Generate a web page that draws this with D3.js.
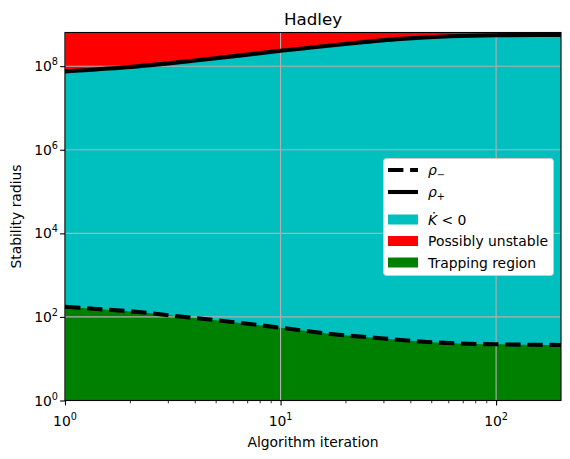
<!DOCTYPE html>
<html><head><meta charset="utf-8">
<script src="https://cdn.jsdelivr.net/npm/d3@7"></script>
<style>
body{margin:0;background:#fff;}
text{font-family:"DejaVu Sans",sans-serif;fill:#000;}
</style></head>
<body><svg id="c" width="570" height="459"></svg>
<script>
// Data
const rhoMinusIter = [1, 1.35, 2.2, 3.5, 5.8, 10, 13.2, 18, 29, 46, 73, 100, 148, 200];
const rhoMinusVal  = [175, 157, 131, 101, 77, 55, 46, 38, 31, 25.5, 22.9, 22.1, 21.6, 21.3];
const rhoPlusIter  = [1, 1.93, 3.93, 10, 13, 21, 36, 61, 100, 200];
const rhoPlusVal   = [7.5e7, 9.4e7, 1.35e8, 2.33e8, 2.7e8, 3.5e8, 4.5e8, 5.2e8, 5.5e8, 5.6e8];
const xTickVals = [1, 10, 100];
const xTickExps = ["0", "1", "2"];
const yTickVals = [1, 1e2, 1e4, 1e6, 1e8];
const yTickExps = ["0", "2", "4", "6", "8"];
const xDomain = [1, 200];
const yDomain = [1, 6.4e8];
const title = "Hadley";
const xLabel = "Algorithm iteration";
const yLabel = "Stability radius";

const svg = d3.select("#c");
const L = 65, R = 561, T = 32.5, B = 400.5;
const FS = 13.9, SUP = 9.7;
const x = d3.scaleLog().domain(xDomain).range([L, R]);
const y = d3.scaleLog().domain(yDomain).range([B, T]);

const rhoMinus = rhoMinusIter.map((d, i) => ({x: d, y: rhoMinusVal[i]}));
const rhoPlus = rhoPlusIter.map((d, i) => ({x: d, y: rhoPlusVal[i]}));
const curve = d3.curveMonotoneX;

// Red region: above rho+
svg.append("path").datum(rhoPlus)
  .attr("d", d3.area().curve(curve).x(d => x(d.x)).y0(y(yDomain[1])).y1(d => y(d.y)))
  .attr("fill", "#ff0000");
// Cyan region: below rho+
svg.append("path").datum(rhoPlus)
  .attr("d", d3.area().curve(curve).x(d => x(d.x)).y0(y(yDomain[0])).y1(d => y(d.y)))
  .attr("fill", "#00bfbf");
// Green region: below rho-
svg.append("path").datum(rhoMinus)
  .attr("d", d3.area().curve(curve).x(d => x(d.x)).y0(y(yDomain[0])).y1(d => y(d.y)))
  .attr("fill", "#008000");

// Grid
const g = svg.append("g");
xTickVals.forEach(v => g.append("line").attr("x1", x(v)).attr("x2", x(v)).attr("y1", T).attr("y2", B)
  .attr("stroke", "#b0b0b0").attr("stroke-width", 1.1));
yTickVals.forEach(v => g.append("line").attr("x1", L).attr("x2", R).attr("y1", y(v)).attr("y2", y(v))
  .attr("stroke", "#b0b0b0").attr("stroke-width", 1.1));

// Lines
const line = d3.line().curve(curve).x(d => x(d.x)).y(d => y(d.y));
svg.append("path").datum(rhoPlus).attr("d", line).attr("fill", "none")
  .attr("stroke", "#000").attr("stroke-width", 4.1);
svg.append("path").datum(rhoMinus).attr("d", line).attr("fill", "none")
  .attr("stroke", "#000").attr("stroke-width", 4.1).attr("stroke-dasharray", "15.4,6.7");

// Frame
svg.append("rect").attr("x", L).attr("y", T).attr("width", R - L).attr("height", B - T)
  .attr("fill", "none").attr("stroke", "#000").attr("stroke-width", 1.1);

// X axis
const xAxis = svg.append("g").attr("transform", `translate(0,${B})`)
  .call(d3.axisBottom(x).tickValues(xTickVals).tickSize(4.9).tickFormat(""));
xAxis.select(".domain").remove();
xAxis.selectAll("line").attr("stroke-width", 1.1);
const xMinor = [];
[1, 10, 100].forEach(base => { for (let k = 2; k <= 9; k++) { const v = base * k; if (v < 200) xMinor.push(v); } });
const xAxisMinor = svg.append("g").attr("transform", `translate(0,${B})`)
  .call(d3.axisBottom(x).tickValues(xMinor).tickSize(2.8).tickFormat(""));
xAxisMinor.select(".domain").remove();
xAxisMinor.selectAll("line").attr("stroke-width", 0.8);
xTickVals.forEach((v, i) => {
  const t = svg.append("text").attr("x", x(v)).attr("y", B + 25.5).attr("text-anchor", "middle")
    .attr("font-size", FS);
  t.append("tspan").text("10");
  t.append("tspan").text(xTickExps[i]).attr("dy", -6).attr("font-size", SUP);
});

// Y axis
const yAxis = svg.append("g").attr("transform", `translate(${L},0)`)
  .call(d3.axisLeft(y).tickValues(yTickVals).tickSize(4.9).tickFormat(""));
yAxis.select(".domain").remove();
yAxis.selectAll("line").attr("stroke-width", 1.1);
yTickVals.forEach((v, i) => {
  const t = svg.append("text").attr("x", L - 7).attr("y", y(v) + 5).attr("text-anchor", "end")
    .attr("font-size", FS);
  t.append("tspan").text("10");
  t.append("tspan").text(yTickExps[i]).attr("dy", -6).attr("font-size", SUP);
});

// Labels
svg.append("text").attr("x", (L + R) / 2).attr("y", 25).attr("text-anchor", "middle")
  .attr("font-size", 16.7).text(title);
svg.append("text").attr("x", (L + R) / 2).attr("y", 446.5).attr("text-anchor", "middle")
  .attr("font-size", FS).text(xLabel);
svg.append("text").attr("transform", `translate(21,${(T + B) / 2}) rotate(-90)`)
  .attr("text-anchor", "middle").attr("font-size", FS).text(yLabel);

// Legend
const lg = svg.append("g");
lg.append("rect").attr("x", 383.5).attr("y", 158.5).attr("width", 170).attr("height", 117)
  .attr("rx", 3).attr("fill", "#fff").attr("stroke", "#cccccc").attr("stroke-width", 1);
const hx0 = 388, hx1 = 418, tx = 428;
const rows = [170, 192, 219.5, 241, 262.5];
lg.append("line").attr("x1", hx0).attr("x2", hx1).attr("y1", rows[0]).attr("y2", rows[0])
  .attr("stroke", "#000").attr("stroke-width", 4.1).attr("stroke-dasharray", "15.4,6.7");
lg.append("line").attr("x1", hx0).attr("x2", hx1).attr("y1", rows[1]).attr("y2", rows[1])
  .attr("stroke", "#000").attr("stroke-width", 4.1);
const patchColors = ["#00bfbf", "#ff0000", "#008000"];
patchColors.forEach((c, i) => {
  lg.append("rect").attr("x", hx0).attr("y", rows[i + 2] - 5).attr("width", hx1 - hx0).attr("height", 10)
    .attr("fill", c);
});
const t0 = lg.append("text").attr("x", tx).attr("y", rows[0] + 4.5).attr("font-size", FS);
t0.append("tspan").text("ρ").attr("font-style", "italic");
t0.append("tspan").text("−").attr("dy", 3).attr("font-size", SUP);
const t1 = lg.append("text").attr("x", tx).attr("y", rows[1] + 4.5).attr("font-size", FS);
t1.append("tspan").text("ρ").attr("font-style", "italic");
t1.append("tspan").text("+").attr("dy", 3).attr("font-size", SUP);
const t2 = lg.append("text").attr("x", tx).attr("y", rows[2] + 5).attr("font-size", FS);
t2.append("tspan").text("K\u0307").attr("font-style", "italic");
t2.append("tspan").text(" < 0");
lg.append("text").attr("x", tx).attr("y", rows[3] + 5).attr("font-size", FS).text("Possibly unstable");
lg.append("text").attr("x", tx).attr("y", rows[4] + 5).attr("font-size", FS).text("Trapping region");
</script></body></html>
